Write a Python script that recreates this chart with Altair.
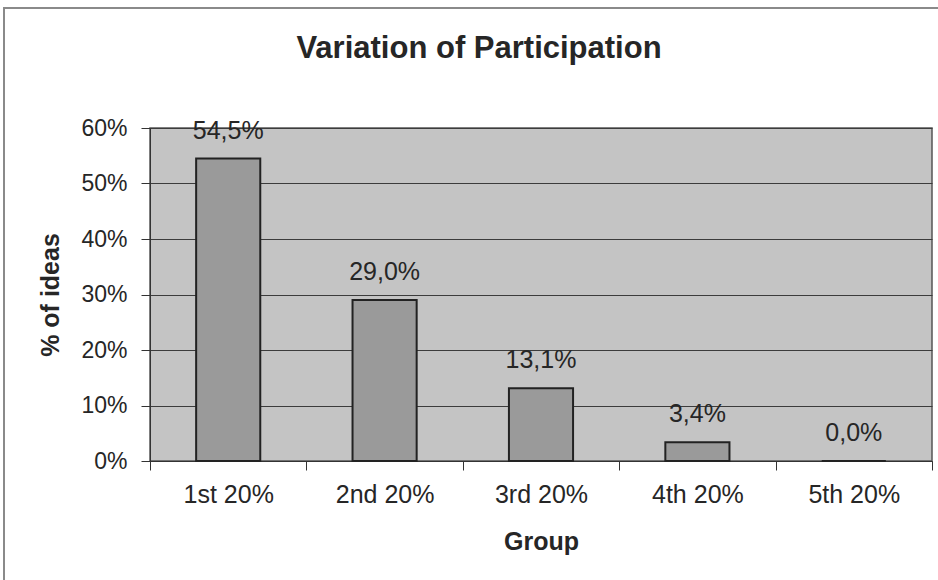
import altair as alt
import pandas as pd

groups = ["1st 20%", "2nd 20%", "3rd 20%", "4th 20%", "5th 20%"]
values = [54.5, 29.0, 13.1, 3.4, 0.0]
labels = [f"{v:.1f}%".replace(".", ",") for v in values]
y_ticks = [0, 10, 20, 30, 40, 50, 60]

df = pd.DataFrame({"group": groups, "value": values, "label": labels})

FONT = "Liberation Sans"
TXT = "#262626"

frame = alt.Chart(df).mark_rect(
    fill="transparent", stroke="#8a8a8a", strokeWidth=1.5, clip=False
).encode(
    x=alt.value(-146), x2=alt.value(820), y=alt.value(-120), y2=alt.value(480)
)

base = alt.Chart(df)

bars = base.mark_bar(
    fill="#9a9a9a", stroke="#222222", strokeWidth=2, width={"band": 0.41}
).encode(
    x=alt.X("group:N", sort=groups, title="Group",
            scale=alt.Scale(paddingInner=0, paddingOuter=0),
            axis=alt.Axis(labelAngle=0, tickBand="extent", tickSize=9,
                          tickColor="#333", domainColor="#333",
                          labelFontSize=25, labelPadding=12, titlePadding=22)),
    y=alt.Y("value:Q", title="% of ideas",
            scale=alt.Scale(domain=[0, 60], nice=False),
            axis=alt.Axis(values=y_ticks, labelExpr="datum.value + '%'",
                          tickSize=9, tickColor="#333", domainColor="#333",
                          gridColor="#3c3c3c", gridWidth=1, labelPadding=14,
                          labelFontSize=23, titlePadding=17)),
)

text = base.mark_text(
    baseline="alphabetic", dy=-20, fontSize=25, font=FONT, color=TXT
).encode(
    x=alt.X("group:N", sort=groups),
    y=alt.Y("value:Q"),
    text="label:N",
)

chart = alt.layer(frame, bars, text).properties(
    width=782, height=333,
    background="white",
    padding={"left": 150, "top": 128, "right": 6, "bottom": 119},
    autosize=alt.AutoSizeParams(type="none"),
    title=alt.TitleParams("Variation of Participation", fontSize=31, font=FONT,
                          fontWeight="bold", color=TXT, offset=-58, dx=-62,
                          anchor="middle", frame="group"),
).configure_view(
    fill="#c4c4c4", stroke="#555555", strokeWidth=1.5
).configure_axis(
    labelFont=FONT, titleFont=FONT, titleFontSize=25,
    labelColor=TXT, titleColor=TXT, titleFontWeight="bold"
)

chart.save("out.html", embed_options={"renderer": "svg", "actions": False})
